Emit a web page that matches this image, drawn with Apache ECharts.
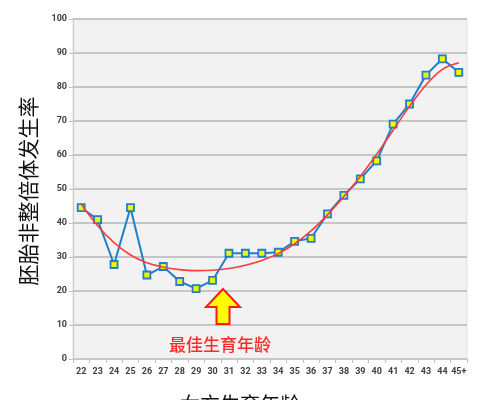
<!DOCTYPE html>
<html>
<head>
<meta charset="utf-8">
<script src="https://cdn.jsdelivr.net/npm/echarts@6/dist/echarts.min.js"></script>
<style>html,body{margin:0;padding:0;background:#fff;}#c{width:500px;height:400px;}</style>
</head>
<body>
<div id="c"></div>
<script>
const categories = ['22','23','24','25','26','27','28','29','30','31','32','33','34','35','36','37','38','39','40','41','42','43','44','45+'];
const rateValues = [44.5,41,27.8,44.5,24.7,27.2,22.8,20.7,23.1,31.1,31.1,31.1,31.4,34.6,35.5,42.7,48.1,53,58.3,69.1,75,83.5,88.3,84.3];
const trendValues = [45.6,39.2,34.2,30.6,28.3,27,26.3,26,26.1,26.6,27.6,29,31,33.9,37.7,42.4,47.8,53.7,60.2,67.3,74.3,80.6,85.2,87.1];
const yTicks = {min:0, max:100, interval:10};
const yTitle = '胚胎非整倍体发生率';
const xTitle = '女方生育年龄';
const noteText = '最佳生育年龄';

const chart = echarts.init(document.getElementById('c'), null, {renderer:'canvas'});
const cjk = '"Noto Sans CJK SC","Noto Sans",sans-serif';
const tickFont = 'Roboto, "Liberation Sans", sans-serif';
chart.setOption({
  animation:false,
  backgroundColor:'#ffffff',
  grid:{left:73,right:33,top:19,bottom:41,show:true,backgroundColor:'#f2f2f2',borderColor:'#e2e2e2',borderWidth:1},
  xAxis:{
    type:'category', data:categories, boundaryGap:true,
    axisLine:{lineStyle:{color:'#c8c8c8',width:1}},
    axisTick:{show:true,length:4,lineStyle:{color:'#c0c0c0'}},
    axisLabel:{interval:0,fontSize:9,fontWeight:'bold',color:'#404040',margin:8,fontFamily:tickFont}
  },
  yAxis:{
    type:'value', min:yTicks.min, max:yTicks.max, interval:yTicks.interval,
    axisLine:{show:true,lineStyle:{color:'#c8c8c8'}},
    axisTick:{show:true,length:4,lineStyle:{color:'#c0c0c0'}},
    axisLabel:{fontSize:9,fontWeight:'bold',color:'#404040',margin:6,fontFamily:tickFont},
    splitLine:{lineStyle:{color:'#c6c6c6',width:2}}
  },
  series:[
    {
      type:'line', data:rateValues, z:3,
      symbol:'rect', symbolSize:7,
      lineStyle:{color:'#1f7fc8',width:2},
      itemStyle:{color:'#f5f500',borderColor:'#1f7fc8',borderWidth:1.8}
    },
    {
      type:'line', data:trendValues, z:4, smooth:0.4,
      symbol:'none',
      lineStyle:{color:'#ff3b3b',width:1.6}
    }
  ],
  graphic:[
    {type:'text', x:28, y:191, rotation:Math.PI/2,
     style:{text:yTitle,fontFamily:cjk,fontSize:21,fill:'#111',align:'center',verticalAlign:'middle'}},
    {type:'text', x:240, y:394,
     style:{text:xTitle,fontFamily:cjk,fontSize:20,fill:'#111',align:'center',verticalAlign:'top'}},
    {type:'polygon', shape:{points:[[223,289],[240,307],[229.5,307],[229.5,324],[216.5,324],[216.5,307],[206,307]]},
     style:{fill:'#ffff00',stroke:'#ff1a1a',lineWidth:2}, z:10},
    {type:'text', x:220, y:345, style:{text:noteText,fontFamily:cjk,fontSize:17,fontWeight:500,fill:'#ff2a2a',align:'center',verticalAlign:'middle'}, z:10}
  ]
});
</script>
</body>
</html>
